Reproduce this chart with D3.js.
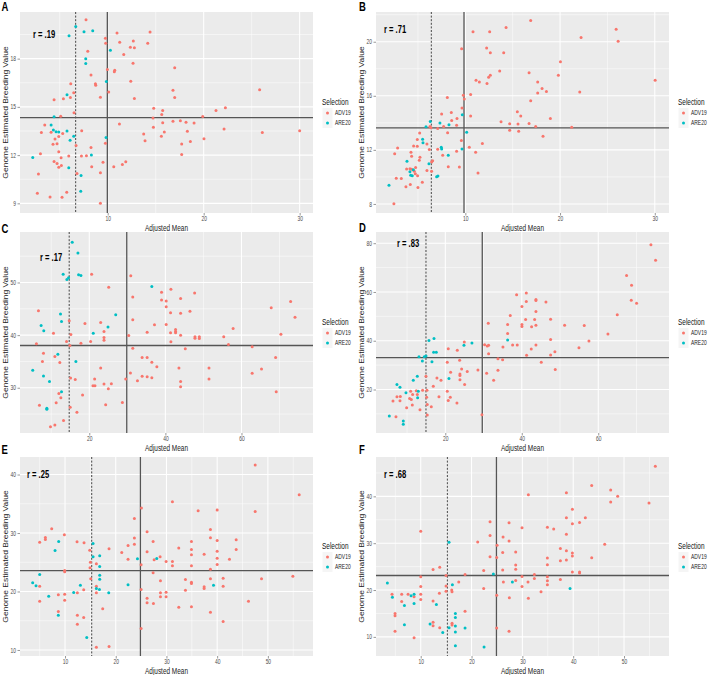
<!DOCTYPE html>
<html><head><meta charset="utf-8">
<script src="https://cdn.jsdelivr.net/npm/d3@7"></script>
<style>body{margin:0;background:#fff} svg{display:block;font-family:"Liberation Sans",Arial,sans-serif}</style>
</head><body><svg id="c" width="708" height="675"></svg>
<script>
const SERIES = ["ADV19","ARE20"];
const COLORS = ["#F8766D","#00BFC4"];
const X_TITLE = "Adjusted Mean";
const Y_TITLE = "Genome Estimated Breeding Value";
const LEGEND_TITLE = "Selection";

const A_ADV19 = [[7.74,20.42],[10.97,19.6],[14.41,19.65],[9.76,19.27],[9.79,18.96],[11.25,19.02],[12.67,19.1],[14.17,18.96],[12.36,18.71],[12.78,18.67],[7.92,18.46],[11.67,18.25],[12.64,17.71],[16.98,17.44],[9.97,17.33],[10.73,17.27],[10.69,17.19],[8.26,16.98],[12.4,16.6],[6.15,16.44],[8.72,16.44],[8.75,16.35],[16.8,16.04],[25.83,16.06],[10.1,15.92],[6.46,15.88],[6.11,15.58],[16.98,15.58],[9.24,15.6],[12.78,15.52],[4.41,15.44],[5.38,15.5],[14.79,14.92],[22.26,14.94],[15.73,14.77],[21.28,14.77],[15.63,14.52],[6.49,14.63],[5.1,14.42],[19.9,14.4],[3.44,13.88],[11.22,13.94],[14.72,14.31],[15.73,14.02],[16.8,14.1],[17.57,14.13],[18.16,14.04],[19.0,14.0],[14.76,13.73],[22.12,13.63],[3.09,13.4],[4.1,13.42],[5.31,13.35],[7.29,13.52],[15.9,13.44],[18.3,13.48],[26.11,13.4],[30.0,13.52],[13.75,13.31],[15.59,13.17],[4.51,13.0],[4.9,13.15],[20.03,13.02],[4.3,12.67],[4.72,12.71],[6.7,12.6],[9.76,12.73],[13.89,12.9],[17.71,12.69],[18.61,12.85],[8.26,12.48],[4.9,12.21],[2.99,12.08],[5.14,11.83],[5.94,11.94],[7.26,11.94],[7.78,11.96],[17.71,12.04],[4.41,11.6],[4.72,11.48],[4.9,11.25],[5.17,11.35],[8.33,11.27],[9.51,11.56],[10.63,11.27],[11.53,11.42],[11.88,11.58],[2.78,10.83],[6.8,10.85],[9.24,10.9],[2.67,9.63],[3.99,9.4],[5.24,9.38],[5.73,9.69],[9.24,9.0]];
const A_ARE20 = [[6.67,20.0],[5.97,19.42],[7.53,19.67],[8.44,19.73],[10.28,18.52],[7.71,18.0],[7.71,17.69],[9.86,16.58],[5.76,15.75],[4.41,14.38],[4.1,13.88],[4.34,13.56],[4.62,13.46],[4.9,13.44],[5.76,13.5],[6.46,13.17],[9.83,13.1],[6.08,12.92],[2.19,11.85],[8.3,12.0],[5.94,11.21],[7.22,10.73],[7.19,9.75]];

const B_ADV19 = [[16.9,21.57],[10.81,20.73],[12.57,20.73],[14.3,21.05],[25.92,20.93],[22.22,20.31],[26.13,20.03],[9.61,19.49],[12.25,19.54],[12.64,19.19],[14.05,19.19],[20.04,18.52],[13.63,17.83],[16.73,17.7],[19.82,17.53],[12.64,17.53],[12.46,17.38],[11.13,17.16],[11.48,17.03],[12.29,16.91],[17.64,17.03],[30.04,17.16],[18.1,16.54],[17.64,16.21],[18.56,16.31],[22.08,16.29],[9.79,16.04],[10.56,16.09],[8.1,15.87],[9.89,15.77],[16.9,15.64],[9.65,15.1],[7.5,14.65],[8.52,14.77],[15.49,14.82],[15.85,14.5],[9.12,14.33],[10.56,14.5],[8.56,14.18],[18.98,14.33],[9.08,13.83],[13.77,14.08],[14.68,13.93],[15.56,13.91],[16.73,13.96],[6.27,13.73],[6.37,13.63],[7.71,13.73],[17.43,13.73],[21.23,13.68],[7.08,13.58],[14.68,13.46],[15.63,13.38],[8.13,13.26],[5.18,13.24],[18.2,13.01],[4.93,12.76],[4.54,12.29],[4.93,12.27],[5.95,12.44],[9.58,12.69],[10.42,12.19],[11.8,12.47],[2.85,12.14],[6.2,12.02],[7.08,12.04],[4.26,11.82],[4.33,11.52],[2.54,11.72],[7.61,11.6],[9.08,11.9],[11.09,11.82],[5.21,11.45],[6.55,11.2],[5.14,11.23],[6.44,11.1],[4.75,10.7],[3.8,10.58],[4.15,10.61],[4.33,10.56],[4.61,10.41],[8.2,10.75],[9.37,10.73],[6.44,10.41],[5.95,10.48],[4.72,10.23],[4.96,10.08],[2.71,9.91],[3.24,9.89],[11.34,10.28],[5.46,9.61],[4.19,9.44],[3.73,9.27],[5.0,9.22],[2.46,8.02]];
const B_ARE20 = [[9.68,14.6],[6.3,14.1],[7.32,13.98],[8.27,13.86],[5.85,13.71],[10.14,13.31],[5.49,12.79],[5.53,12.52],[7.46,12.19],[7.5,12.07],[9.65,12.07],[8.2,11.6],[3.84,11.15],[6.16,10.98],[4.51,10.53],[4.15,10.38],[4.23,10.13],[4.4,10.08],[6.97,10.01],[7.11,10.06],[1.94,9.39]];

const C_ADV19 = [[20.62,51.59],[30.9,51.27],[25.1,49.11],[41.45,48.73],[38.99,48.15],[47.69,48.03],[31.43,47.26],[38.99,46.69],[40.22,46.5],[44.0,46.94],[72.92,46.37],[40.22,45.41],[67.82,45.22],[6.64,44.65],[41.36,44.27],[44.0,44.14],[46.46,44.52],[74.07,43.38],[31.43,42.93],[14.73,42.74],[22.99,42.42],[18.86,42.23],[37.14,41.97],[40.22,42.04],[57.8,41.27],[10.59,40.38],[15.16,40.13],[35.21,40.57],[42.68,41.08],[42.68,40.7],[42.68,40.45],[41.36,40.45],[44.0,40.0],[30.37,39.94],[23.87,40.7],[23.87,39.55],[23.87,39.04],[47.78,39.68],[47.78,39.43],[48.92,39.68],[48.92,39.36],[55.34,39.68],[70.37,40.19],[20.35,38.79],[14.02,38.79],[41.45,38.73],[17.8,38.47],[6.11,38.34],[14.9,38.03],[56.57,38.22],[62.81,37.77],[31.43,37.52],[45.23,37.39],[7.96,36.56],[10.95,35.92],[33.89,35.73],[35.21,35.73],[68.97,35.73],[7.69,34.97],[12.26,34.78],[36.44,34.84],[37.76,34.01],[22.99,33.76],[43.56,33.76],[51.47,33.76],[65.27,33.57],[62.81,32.74],[30.81,32.8],[33.89,32.17],[35.21,32.1],[36.44,31.91],[15.08,31.85],[16.31,31.59],[21.41,31.66],[29.58,31.66],[32.66,31.34],[44.0,31.21],[51.47,31.66],[20.97,30.38],[21.49,30.38],[23.87,30.7],[25.8,30.76],[25.01,29.81],[44.0,30.19],[69.14,29.24],[12.0,28.92],[12.53,28.09],[18.24,28.6],[11.3,27.13],[28.7,27.2],[6.9,26.69],[14.99,26.31],[24.31,26.75],[16.75,25.35],[13.23,23.76],[10.95,22.93],[9.8,22.61]];
const C_ARE20 = [[15.52,57.64],[17.01,55.6],[13.14,51.59],[17.19,51.46],[17.8,51.34],[14.55,50.89],[14.11,50.57],[36.44,49.24],[12.44,44.01],[26.95,43.89],[12.7,42.61],[7.34,41.85],[24.92,41.53],[8.04,40.83],[21.05,40.38],[11.74,36.37],[16.48,34.97],[5.14,33.31],[7.96,32.23],[9.54,31.21],[12.7,29.24],[8.84,26.11],[8.84,25.92]];

const D_ADV19 = [[73.77,79.32],[74.99,73.06],[67.41,66.8],[68.71,62.72],[68.63,56.6],[70.02,55.37],[38.65,58.91],[41.18,59.59],[41.18,56.05],[43.7,56.87],[43.7,56.46],[46.32,55.92],[40.04,54.01],[43.7,51.97],[36.99,50.34],[64.97,50.61],[41.0,48.71],[43.36,48.71],[47.54,48.84],[31.24,47.21],[36.3,46.67],[40.04,46.67],[40.04,45.85],[42.57,45.71],[43.7,46.39],[51.2,46.39],[56.34,46.26],[62.53,42.72],[36.3,42.99],[47.54,40.54],[57.56,39.86],[24.97,39.46],[30.28,38.37],[30.98,37.82],[31.33,38.1],[37.6,38.23],[38.82,38.23],[43.7,38.23],[20.78,36.73],[23.14,36.05],[35.08,37.41],[42.48,36.6],[54.95,37.14],[48.66,35.51],[31.33,34.69],[41.26,34.01],[47.54,34.15],[23.75,31.97],[33.77,32.65],[34.99,32.24],[20.52,31.16],[45.1,31.16],[28.54,28.03],[24.27,28.44],[33.77,27.89],[48.76,28.16],[21.39,27.07],[25.75,27.35],[23.83,26.39],[30.81,26.67],[23.83,25.71],[14.95,25.44],[17.82,24.76],[23.83,23.95],[18.87,23.81],[32.64,23.81],[25.05,22.04],[16.86,21.36],[14.07,19.73],[15.21,19.73],[10.94,19.32],[12.42,19.46],[20.52,19.32],[11.46,17.96],[12.68,17.96],[7.36,17.01],[8.24,17.14],[15.12,16.87],[18.34,17.01],[21.31,16.87],[10.68,16.33],[6.32,15.24],[8.15,15.37],[11.11,15.92],[20.78,15.51],[23.05,14.42],[11.37,13.61],[15.29,13.88],[16.34,12.93],[9.89,12.52],[13.38,11.7],[15.29,9.52],[7.1,8.84],[29.59,9.66]];
const D_ARE20 = [[15.73,40.14],[17.04,40.95],[36.3,40.27],[26.97,39.05],[24.88,38.1],[16.95,35.24],[17.65,35.24],[13.12,33.47],[14.51,33.47],[14.95,33.74],[14.0,31.7],[16.51,31.43],[12.68,25.44],[20.96,24.49],[11.63,23.81],[7.36,22.04],[8.15,20.95],[12.94,19.32],[9.72,18.64],[12.77,16.6],[5.36,9.12],[9.02,7.07],[9.02,5.71]];

const E_ADV19 = [[47.5,41.62],[56.18,36.54],[31.18,35.35],[25.07,34.26],[36.25,33.8],[40.0,33.92],[47.5,33.69],[23.68,32.49],[7.37,30.72],[38.68,30.61],[26.18,30.21],[9.87,29.7],[6.12,29.24],[6.12,28.9],[23.68,29.13],[38.68,29.18],[5.0,28.44],[12.37,28.5],[13.75,28.33],[27.37,28.56],[34.93,28.56],[40.0,28.73],[43.75,28.84],[23.68,28.1],[22.43,27.87],[18.68,27.3],[32.43,27.42],[34.93,27.19],[43.75,27.19],[14.87,27.07],[40.0,26.9],[21.18,26.67],[26.18,26.79],[37.43,26.39],[34.93,26.27],[28.75,25.93],[40.0,25.7],[42.43,25.53],[22.43,25.53],[27.57,25.42],[29.93,25.13],[31.18,25.13],[15.0,25.02],[16.18,24.73],[25.0,24.56],[31.18,24.39],[34.93,24.39],[40.0,24.62],[14.93,24.05],[38.68,23.82],[9.93,23.59],[9.93,23.37],[27.37,23.19],[15.07,22.17],[33.75,22.05],[38.68,22.17],[41.18,22.28],[48.75,22.17],[54.93,22.62],[28.82,21.83],[34.93,21.6],[34.93,21.37],[5.0,20.91],[37.43,20.8],[37.43,20.51],[41.18,20.91],[16.18,20.91],[13.68,20.29],[25.0,20.34],[33.75,20.23],[8.68,19.43],[9.93,19.54],[12.43,19.77],[16.18,19.77],[28.82,19.77],[29.93,19.89],[29.93,19.09],[28.82,19.09],[26.18,18.86],[5.0,18.35],[9.93,18.52],[46.18,18.35],[26.18,18.06],[27.43,17.95],[32.43,17.32],[34.93,17.38],[17.43,17.03],[8.68,16.58],[38.68,16.46],[12.43,15.95],[13.68,15.55],[41.18,14.87],[12.43,14.41],[25.0,13.67],[16.18,10.47],[18.68,10.59]];
const E_ARE20 = [[8.75,28.56],[15.53,28.21],[8.03,27.02],[15.53,25.93],[16.84,26.1],[24.28,25.59],[28.09,25.65],[16.84,24.28],[5.0,22.91],[16.84,22.8],[16.84,22.11],[3.62,21.48],[4.28,20.97],[13.03,21.08],[22.43,21.14],[39.28,21.08],[16.18,20.51],[16.78,20.34],[6.78,19.2],[11.71,19.83],[18.62,19.77],[8.68,15.95],[14.28,12.13]];

const F_ADV19 = [[56.16,46.41],[43.64,42.32],[47.38,41.34],[38.66,40.77],[31.18,40.35],[48.75,40.0],[47.38,38.8],[54.92,38.59],[39.84,37.25],[38.66,35.42],[42.39,35.42],[23.64,34.58],[27.38,34.37],[41.25,34.44],[39.84,34.15],[29.93,33.31],[34.92,33.38],[36.16,33.03],[10.0,32.54],[38.66,31.9],[23.64,31.62],[26.2,31.34],[21.21,30.28],[27.38,30.49],[25.02,29.58],[46.2,29.79],[37.48,28.87],[39.84,27.89],[26.13,28.03],[28.69,28.1],[38.66,28.38],[39.84,27.25],[23.64,27.11],[24.95,26.97],[34.92,26.83],[43.64,26.9],[37.48,26.27],[38.66,26.41],[28.69,25.35],[34.92,25.42],[28.69,24.44],[26.13,24.3],[13.74,24.86],[12.43,24.37],[22.39,24.15],[39.84,23.87],[41.25,23.87],[41.25,23.66],[18.72,23.31],[32.36,23.31],[14.98,23.1],[10.0,22.82],[29.93,22.89],[34.92,22.82],[32.36,22.46],[37.48,22.25],[34.92,21.97],[28.69,22.04],[26.26,21.69],[31.11,21.69],[17.48,21.69],[34.92,21.13],[10.0,20.77],[14.98,20.85],[22.39,20.35],[29.93,20.77],[14.98,19.72],[16.1,20.0],[16.16,19.65],[33.67,19.65],[13.67,19.3],[4.36,19.08],[6.26,19.08],[7.51,19.08],[10.0,19.08],[8.69,18.59],[24.95,18.87],[27.44,18.38],[31.18,18.24],[10.0,17.96],[12.43,17.68],[6.26,17.54],[18.72,15.49],[4.95,15.0],[4.95,14.51],[16.16,12.89],[16.16,12.54],[12.43,13.1],[12.43,12.39],[13.74,11.97],[24.95,11.9],[4.95,11.2],[27.38,11.2],[8.69,9.79]];
const F_ARE20 = [[15.57,30.21],[24.3,23.45],[28.03,21.69],[3.44,21.48],[16.23,21.13],[39.38,20.35],[8.69,19.08],[8.1,18.8],[4.43,18.45],[8.69,17.11],[6.79,16.69],[13.08,16.9],[16.82,15.0],[16.82,14.15],[11.84,12.75],[6.79,12.61],[16.82,12.32],[15.57,11.97],[18.72,11.9],[14.33,10.92],[16.82,11.06],[16.82,8.1],[22.46,7.82]];

const PANEL_IDS = ["A","B","C","D","E","F"];
const R_LABELS = ["r = .19","r = .71","r = .17","r = .83","r = .25","r = .68"];
const X_DOMAINS = [[0.86,31.39],[0.57,31.5],[1.79,78.8],[1.88,78.5],[1.12,58.9],[1.2,58.85]];
const Y_DOMAINS = [[8.4,20.9],[7.33,22.2],[21.4,59.6],[2.16,84.6],[8.97,43.0],[5.92,48.4]];
const X_TICKS = [[10,20,30],[10,20,30],[20,40,60],[20,40,60],[10,20,30,40,50],[10,20,30,40,50]];
const Y_TICKS = [[9,12,15,18],[8,12,16,20],[30,40,50],[20,40,60,80],[10,20,30,40],[10,20,30,40]];
const V_DASHED = [6.66,6.41,14.72,14.95,15.26,15.24];
const V_SOLID = [9.96,9.86,29.85,29.67,24.87,24.9];
const H_SOLID = [14.33,13.63,38.03,33.06,23.58,23.1];
const SERIES_DATA = [[A_ADV19,A_ARE20],[B_ADV19,B_ARE20],[C_ADV19,C_ARE20],[D_ADV19,D_ARE20],[E_ADV19,E_ARE20],[F_ADV19,F_ARE20]];

// layout (pixels)
const COLS = [{left:20,right:313},{left:376,right:669}];
const ROWS = [{top:12,bottom:213},{top:232,bottom:433},{top:457,bottom:656}];
const LETTER_POS = [[1.5,10.5],[359,10.5],[1.5,233],[359,232],[1.5,454],[359,454]];
const R_OFFSET = [[13,25.5],[8,20.5],[20,28.5],[21,15],[7,21],[8,21]];
const SQ = 0.76; // horizontal squish of the source figure

const svg = d3.select("#c");
svg.append("rect").attr("width",708).attr("height",675).attr("fill","#fff");

function htext(g, x, y, txt, size, opts={}) {
  const t = g.append("text")
    .attr("transform", `translate(${x},${y}) scale(${SQ},1)`)
    .attr("font-size", size)
    .attr("fill", opts.fill || "#000")
    .attr("text-anchor", opts.anchor || "start")
    .attr("dominant-baseline", opts.baseline || "auto")
    .text(txt);
  if (opts.bold) t.attr("font-weight","bold");
  return t;
}

function minors(ticks, dom) {
  const step = ticks[1]-ticks[0];
  const out = [];
  for (let t = ticks[0]-step/2; t <= dom[1]; t += step) if (t >= dom[0]) out.push(t);
  return out;
}

PANEL_IDS.forEach((id, i) => {
  const col = COLS[i % 2], row = ROWS[Math.floor(i/2)];
  const x = d3.scaleLinear().domain(X_DOMAINS[i]).range([col.left, col.right]);
  const y = d3.scaleLinear().domain(Y_DOMAINS[i]).range([row.bottom, row.top]);
  const g = svg.append("g");

  g.append("rect").attr("x",col.left).attr("y",row.top)
    .attr("width",col.right-col.left).attr("height",row.bottom-row.top).attr("fill","#EBEBEB");

  g.selectAll(null).data(minors(X_TICKS[i], X_DOMAINS[i])).enter().append("line")
    .attr("x1",d=>x(d)).attr("x2",d=>x(d)).attr("y1",row.top).attr("y2",row.bottom)
    .attr("stroke","#fff").attr("stroke-width",0.5);
  g.selectAll(null).data(minors(Y_TICKS[i], Y_DOMAINS[i])).enter().append("line")
    .attr("y1",d=>y(d)).attr("y2",d=>y(d)).attr("x1",col.left).attr("x2",col.right)
    .attr("stroke","#fff").attr("stroke-width",0.5);
  g.selectAll(null).data(X_TICKS[i]).enter().append("line")
    .attr("x1",d=>x(d)).attr("x2",d=>x(d)).attr("y1",row.top).attr("y2",row.bottom)
    .attr("stroke","#fff").attr("stroke-width",1.05);
  g.selectAll(null).data(Y_TICKS[i]).enter().append("line")
    .attr("y1",d=>y(d)).attr("y2",d=>y(d)).attr("x1",col.left).attr("x2",col.right)
    .attr("stroke","#fff").attr("stroke-width",1.05);

  const xa = g.append("g").attr("transform",`translate(0,${row.bottom})`)
    .call(d3.axisBottom(x).tickValues(X_TICKS[i]).tickSize(2.5).tickPadding(1));
  const ya = g.append("g").attr("transform",`translate(${col.left},0)`)
    .call(d3.axisLeft(y).tickValues(Y_TICKS[i]).tickSize(2.5).tickPadding(1.5));
  [xa, ya].forEach(a => {
    a.select(".domain").remove();
    a.selectAll(".tick line").attr("stroke","#333").attr("stroke-width",0.5);
    a.selectAll(".tick text").attr("fill","#4D4D4D").attr("font-size",6.5)
      .attr("font-family","Liberation Sans, Arial, sans-serif");
  });
  xa.selectAll(".tick text").attr("transform",`scale(${SQ},1)`);
  ya.selectAll(".tick text").each(function(){
    const t = d3.select(this);
    t.attr("x", (+t.attr("x"))/SQ).attr("transform",`scale(${SQ},1)`);
  });

  g.append("line").attr("x1",x(V_DASHED[i])).attr("x2",x(V_DASHED[i]))
    .attr("y1",row.top).attr("y2",row.bottom)
    .attr("stroke","#333").attr("stroke-width",0.9).attr("stroke-dasharray","2,1.6");
  g.append("line").attr("x1",x(V_SOLID[i])).attr("x2",x(V_SOLID[i]))
    .attr("y1",row.top).attr("y2",row.bottom)
    .attr("stroke","#555").attr("stroke-width",1.3);
  g.append("line").attr("y1",y(H_SOLID[i])).attr("y2",y(H_SOLID[i]))
    .attr("x1",col.left).attr("x2",col.right)
    .attr("stroke","#555").attr("stroke-width",1.3);

  SERIES_DATA[i].forEach((pts, s) => {
    g.selectAll(null).data(pts).enter().append("circle")
      .attr("cx",d=>x(d[0])).attr("cy",d=>y(d[1])).attr("r",1.5)
      .attr("fill",COLORS[s]);
  });

  htext(g, col.left + R_OFFSET[i][0], row.top + R_OFFSET[i][1], R_LABELS[i], 10, {bold:true});

  const midX = (col.left+col.right)/2, midY = (row.top+row.bottom)/2;
  htext(g, midX, row.bottom + 15, X_TITLE, 8.5, {anchor:"middle", baseline:"central", fill:"#222"});
  g.append("text")
    .attr("transform",`translate(${col.left-14},${midY}) rotate(-90) scale(1,${SQ})`)
    .attr("font-size",8.5).attr("fill","#222").attr("text-anchor","middle")
    .attr("dominant-baseline","central").text(Y_TITLE);

  const lx = col.right + 9;
  htext(g, lx, midY - 10, LEGEND_TITLE, 8.5, {baseline:"central", fill:"#111"});
  SERIES.forEach((name, s) => {
    const cy = midY + 0.5 + s*10;
    g.append("rect").attr("x",lx+0.5).attr("y",cy-5).attr("width",10).attr("height",10).attr("fill","#F5F5F5");
    g.append("circle").attr("cx",lx+5.5).attr("cy",cy).attr("r",1.5).attr("fill",COLORS[s]);
    htext(g, lx+13, cy, name, 6.5, {baseline:"central", fill:"#222"});
  });

  htext(svg, LETTER_POS[i][0], LETTER_POS[i][1], id, 12.5, {bold:true});
});
</script></body></html>
